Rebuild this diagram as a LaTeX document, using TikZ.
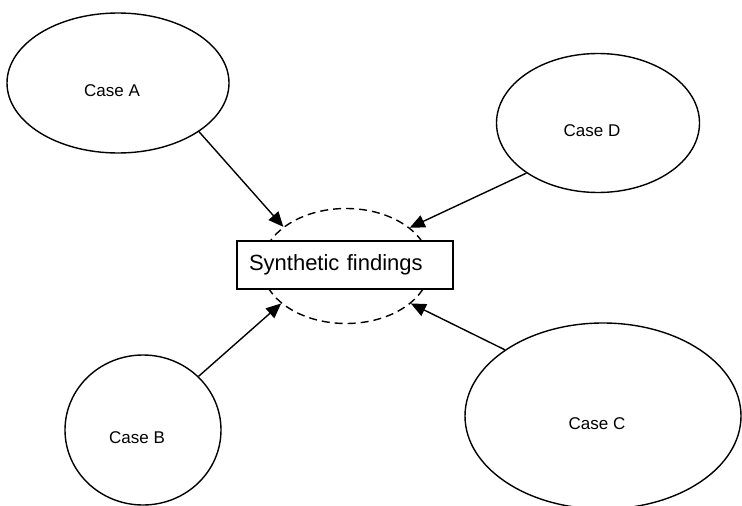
\documentclass[tikz,border=0pt]{standalone}
\usepackage{fontspec}
\setmainfont{Liberation Sans}
\usepackage{tikz}
\usetikzlibrary{shapes.geometric, arrows.meta}
\tikzstyle{case} = [ellipse, draw=black, line width=1.4pt, inner sep=0pt]
\tikzstyle{casetext} = [font=\fontsize{17}{20}\selectfont, xshift=-6pt, yshift=-8pt]
\tikzstyle{hub} = [ellipse, draw=black, line width=1.4pt, dash pattern=on 8pt off 5pt, minimum width=168pt, minimum height=115pt]
\tikzstyle{finding} = [rectangle, draw=black, fill=white, line width=1.4pt, minimum width=216pt, minimum height=48pt, inner xsep=12pt, text width=192pt, align=left, font=\fontsize{22}{26}\selectfont]
\tikzstyle{arrow} = [line width=1.4pt, -{Triangle[length=15pt,width=13pt]}]

\begin{document}
\begin{tikzpicture}[x=1pt, y=-1pt]
\useasboundingbox (0,0) rectangle (742,506);

\node (hub) [hub] at (346,266) {};
\node (syn) [finding] at (345,265) {Synthetic findings};

\node (a) [case, minimum width=222pt, minimum height=140pt, label={[casetext]center:Case A}] at (118,83) {};
\node (d) [case, minimum width=203pt, minimum height=139pt, label={[casetext]center:Case D}] at (598,123) {};
\node (b) [case, minimum width=156pt, minimum height=150pt, label={[casetext]center:Case B}] at (143,430) {};
\node (c) [case, minimum width=276pt, minimum height=186pt, label={[casetext]center:Case C}] at (603,416) {};

\draw [arrow] (a.-31.5) -- (hub.148);
\draw [arrow] (d.215) -- (hub.31.5);
\draw [arrow] (b.44) -- (hub.210.6);
\draw [arrow] (c.146) -- (hub.-30.2);
\end{tikzpicture}
\end{document}
